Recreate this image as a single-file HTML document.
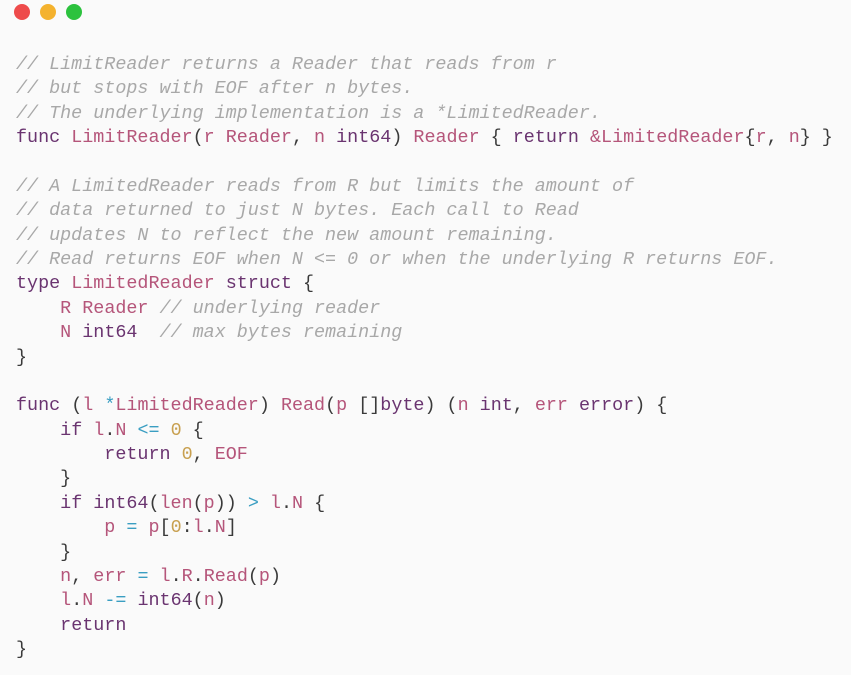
<!DOCTYPE html>
<html><head><meta charset="utf-8"><style>
body{margin:0;width:851px;height:675px;background:#fafafa;overflow:hidden;position:relative}
.d{position:absolute;top:4px;width:16px;height:16px;border-radius:50%}
pre{position:absolute;left:16px;top:53px;margin:0;font-family:"Liberation Mono",monospace;font-size:18.4px;line-height:24.38px;color:#3a3a3a}
.c{color:#a8a8a8;font-style:italic}
.k{color:#6a3470}
.i{color:#b5557a}
.n{color:#c8a050}
.o{color:#3a9ec2}
</style></head><body>
<div class="d" style="left:14px;background:#ee4b4b"></div>
<div class="d" style="left:40px;background:#f4b22e"></div>
<div class="d" style="left:66px;background:#2cc23e"></div>
<pre><span class="c">// LimitReader returns a Reader that reads from r
// but stops with EOF after n bytes.
// The underlying implementation is a *LimitedReader.</span>
<span class="k">func</span> <span class="i">LimitReader</span>(<span class="i">r</span> <span class="i">Reader</span>, <span class="i">n</span> <span class="k">int64</span>) <span class="i">Reader</span> { <span class="k">return</span> <span class="i">&amp;LimitedReader</span>{<span class="i">r</span>, <span class="i">n</span>} }

<span class="c">// A LimitedReader reads from R but limits the amount of
// data returned to just N bytes. Each call to Read
// updates N to reflect the new amount remaining.
// Read returns EOF when N &lt;= 0 or when the underlying R returns EOF.</span>
<span class="k">type</span> <span class="i">LimitedReader</span> <span class="k">struct</span> {
    <span class="i">R</span> <span class="i">Reader</span> <span class="c">// underlying reader</span>
    <span class="i">N</span> <span class="k">int64</span>  <span class="c">// max bytes remaining</span>
}

<span class="k">func</span> (<span class="i">l</span> <span class="o">*</span><span class="i">LimitedReader</span>) <span class="i">Read</span>(<span class="i">p</span> []<span class="k">byte</span>) (<span class="i">n</span> <span class="k">int</span>, <span class="i">err</span> <span class="k">error</span>) {
    <span class="k">if</span> <span class="i">l</span>.<span class="i">N</span> <span class="o">&lt;=</span> <span class="n">0</span> {
        <span class="k">return</span> <span class="n">0</span>, <span class="i">EOF</span>
    }
    <span class="k">if</span> <span class="k">int64</span>(<span class="i">len</span>(<span class="i">p</span>)) <span class="o">&gt;</span> <span class="i">l</span>.<span class="i">N</span> {
        <span class="i">p</span> <span class="o">=</span> <span class="i">p</span>[<span class="n">0</span>:<span class="i">l</span>.<span class="i">N</span>]
    }
    <span class="i">n</span>, <span class="i">err</span> <span class="o">=</span> <span class="i">l</span>.<span class="i">R</span>.<span class="i">Read</span>(<span class="i">p</span>)
    <span class="i">l</span>.<span class="i">N</span> <span class="o">-=</span> <span class="k">int64</span>(<span class="i">n</span>)
    <span class="k">return</span>
}</pre>
</body></html>
